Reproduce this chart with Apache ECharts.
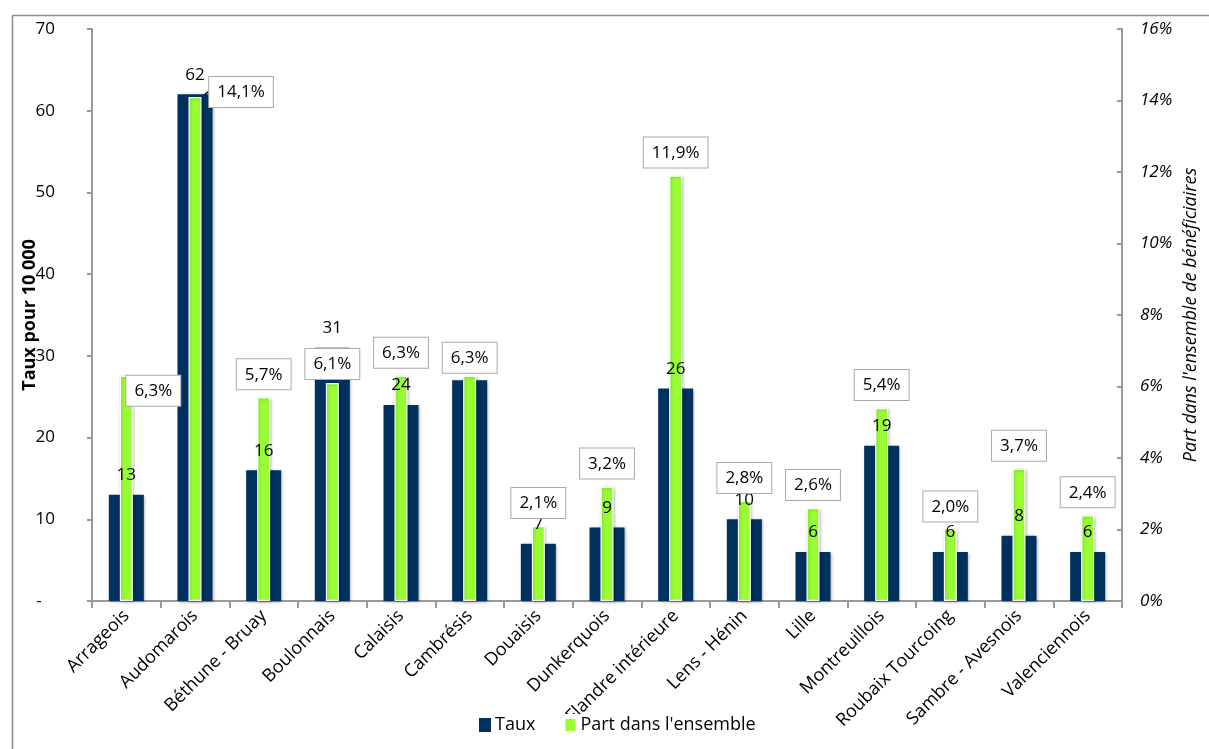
<!DOCTYPE html>
<html>
<head>
<meta charset="utf-8">
<script src="https://cdn.jsdelivr.net/npm/echarts@6/dist/echarts.min.js"></script>
<style>
  html, body { margin: 0; padding: 0; background: #fff; }
  #chart { width: 1209px; height: 749px; }
</style>
</head>
<body>
<div id="chart"></div>
<script>
// Territories, rate per 10 000 and share of all beneficiaries
const categories = ['Arrageois', 'Audomarois', 'Béthune - Bruay', 'Boulonnais', 'Calaisis', 'Cambrésis',
  'Douaisis', 'Dunkerquois', 'Flandre intérieure', 'Lens - Hénin', 'Lille', 'Montreuillois',
  'Roubaix Tourcoing', 'Sambre - Avesnois', 'Valenciennois'];
const taux = [13, 62, 16, 31, 24, 27, 7, 9, 26, 10, 6, 19, 6, 8, 6];
const part = [6.3, 14.1, 5.7, 6.1, 6.3, 6.3, 2.1, 3.2, 11.9, 2.8, 2.6, 5.4, 2.0, 3.7, 2.4];

const FONT = '"Open Sans", "Noto Sans", sans-serif';
const NAVY = '#00315f';
const GREEN = '#99ff33';
const AXIS_GREY = '#999';

// label nudges for the share boxes that would otherwise collide
const partLabelShift = { 0: [27, 38], 1: [46, 18], 3: [0, 4], 5: [0, 5] };

const chart = echarts.init(document.getElementById('chart'));

chart.setOption({
  animation: false,
  backgroundColor: '#fff',
  textStyle: { fontFamily: FONT },
  graphic: [{
    type: 'rect', left: 10, top: 13, silent: true, z: -10,
    shape: { width: 1240, height: 780 },
    style: { fill: 'none', stroke: '#8c8c8c', lineWidth: 1.5 }
  }],
  grid: { left: 92, right: 87, top: 29, bottom: 148, outerBoundsMode: 'none' },
  legend: {
    bottom: 13, left: 477,
    icon: 'rect', itemWidth: 12, itemHeight: 14, itemGap: 28,
    backgroundColor: '#fff', padding: [2, 2],
    textStyle: { fontFamily: FONT, fontSize: 18, color: '#000', padding: [0, 0, 0, -1] },
    data: ['Taux', 'Part dans l\'ensemble']
  },
  xAxis: [{
    type: 'category', data: categories,
    axisLine: { lineStyle: { color: AXIS_GREY, width: 2 } },
    axisTick: { show: true, length: 7, lineStyle: { color: AXIS_GREY, width: 2 } },
    axisLabel: { interval: 0, rotate: 45, margin: 12, fontSize: 18, color: '#000', fontFamily: FONT }
  }, {
    type: 'category', data: categories, show: false
  }],
  yAxis: [{
    type: 'value', min: 0, max: 70, interval: 10,
    name: 'Taux pour 10 000', nameLocation: 'middle', nameGap: 53, nameRotate: 90,
    nameMoveOverlap: false,
    nameTextStyle: { fontFamily: FONT, fontSize: 18, fontWeight: 'bold', color: '#000' },
    axisLine: { show: true, lineStyle: { color: AXIS_GREY, width: 2 } },
    axisTick: { show: true, length: 5, lineStyle: { color: AXIS_GREY, width: 2 } },
    splitLine: { show: false },
    axisLabel: {
      margin: 37, fontSize: 17, color: '#000', fontFamily: FONT,
      formatter: v => (v === 0 ? '-   ' : String(v))
    }
  }, {
    type: 'value', min: 0, max: 16, interval: 2, position: 'right',
    name: 'Part dans l\'ensemble de bénéficiaires', nameLocation: 'middle', nameGap: 60, nameRotate: 90,
    nameMoveOverlap: false,
    nameTextStyle: { fontFamily: FONT, fontSize: 18, fontStyle: 'italic', color: '#000' },
    axisLine: { show: true, lineStyle: { color: AXIS_GREY, width: 2 } },
    axisTick: { show: true, inside: true, length: 5, lineStyle: { color: AXIS_GREY, width: 2 } },
    splitLine: { show: false },
    axisLabel: {
      margin: 18, fontSize: 17, fontStyle: 'italic', color: '#000', fontFamily: FONT,
      formatter: v => v + '%'
    }
  }],
  series: [{
    name: 'Taux', type: 'bar', xAxisIndex: 0, yAxisIndex: 0,
    data: taux, barWidth: 35,
    itemStyle: {
      color: NAVY,
      shadowColor: 'rgba(0,0,0,0.35)', shadowBlur: 3, shadowOffsetX: 1, shadowOffsetY: 1
    },
    label: {
      show: true, position: 'top', distance: 11,
      fontSize: 17, color: '#000', fontFamily: FONT
    },
    z: 2
  }, {
    name: 'Part dans l\'ensemble', type: 'bar', xAxisIndex: 1, yAxisIndex: 1,
    data: part.map((v, i) => (i === 1
      ? { value: v, labelLine: { show: true, lineStyle: { color: '#000', width: 1.5 } } }
      : v)),
    barWidth: 13,
    itemStyle: {
      color: GREEN, borderColor: '#fff', borderWidth: 1.2,
      shadowColor: 'rgba(0,0,0,0.25)', shadowBlur: 3, shadowOffsetX: 1, shadowOffsetY: 1
    },
    label: {
      show: true, position: 'top', distance: 8,
      fontSize: 17, color: '#000', fontFamily: FONT,
      backgroundColor: '#fff', borderColor: '#aaa', borderWidth: 1,
      padding: [7, 8, 6, 8],
      formatter: p => p.value.toFixed(1).replace('.', ',') + '%'
    },
    labelLayout: p => {
      const s = partLabelShift[p.dataIndex];
      return s ? { dx: s[0], dy: s[1] } : {};
    },
    z: 2
  }]
});
</script>
</body>
</html>
